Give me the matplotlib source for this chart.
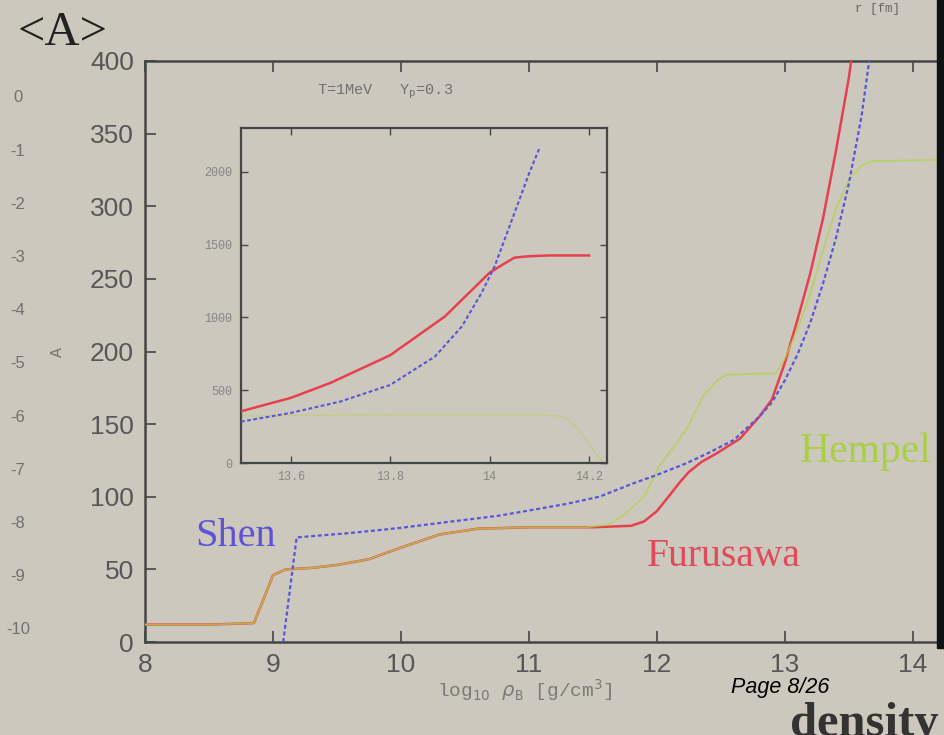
import matplotlib
matplotlib.use("Agg")
import matplotlib.pyplot as plt
from matplotlib.patches import Rectangle

# mean mass number <A> vs baryon density, T=1 MeV, Yp=0.3
furusawa_x = [8.0, 8.5, 8.85, 8.92, 9.0, 9.1, 9.3, 9.5, 9.75, 10.0, 10.3, 10.6, 11.0, 11.5, 11.8,
              11.9, 12.0, 12.1, 12.18, 12.25, 12.35, 12.47, 12.65, 12.8, 12.9, 13.0, 13.1,
              13.2, 13.3, 13.4, 13.5, 13.56]
furusawa_y = [12, 12, 13, 28, 46, 50, 51, 53, 57, 65, 74, 78, 79, 79, 80,
              83, 90, 101, 110, 117, 124, 130, 140, 155, 167, 192, 222,
              254, 292, 338, 388, 425]

hempel_x = [8.0, 8.5, 8.85, 8.92, 9.0, 9.1, 9.3, 9.5, 9.75, 10.0, 10.3, 10.6, 11.0, 11.45,
            11.63, 11.75, 11.9, 12.02, 12.23, 12.36, 12.47, 12.54, 12.93, 13.0, 13.1, 13.2,
            13.3, 13.4, 13.5, 13.6, 13.68, 14.19]
hempel_y = [12, 12, 13, 28, 46, 50, 51, 53, 57, 65, 74, 78, 79, 79,
            81, 88, 100, 121, 146, 169, 180, 184, 185, 195, 215, 240,
            270, 298, 318, 328, 331, 332]

shen_x = [9.08, 9.185, 9.6, 9.99, 10.4, 10.77, 11.29, 11.55, 11.81, 12.0, 12.23, 12.4, 12.6,
          12.8, 12.9, 13.0, 13.1, 13.2, 13.3, 13.4, 13.5, 13.6, 13.7]
shen_y = [0, 72, 75, 78.5, 83, 87, 95, 100, 109, 115, 123, 130, 139,
          155, 165, 180, 198, 220, 247, 278, 315, 362, 425]

# zoom on the high density end
in_furusawa_x = [13.5, 13.6, 13.68, 13.8, 13.91, 14.0, 14.03, 14.05, 14.08, 14.12, 14.2]
in_furusawa_y = [355, 447, 550, 740, 1006, 1307, 1370, 1410, 1420, 1425, 1425]
in_shen_x = [13.5, 13.6, 13.7, 13.8, 13.89, 13.944, 13.984, 14.01, 14.045, 14.08, 14.1]
in_shen_y = [284, 344, 422, 536, 731, 937, 1169, 1350, 1671, 1994, 2160]
in_hempel_x = [13.5, 13.7, 13.9, 14.1, 14.15, 14.18, 14.21, 14.23]
in_hempel_y = [322, 330, 332, 332, 320, 227, 80, 0]

main_yticks = [0, 50, 100, 150, 200, 250, 300, 350, 400]
main_xticks = [8, 9, 10, 11, 12, 13, 14]
inset_xticks = [13.6, 13.8, 14.0, 14.2]
inset_xlabels = ["13.6", "13.8", "14", "14.2"]
inset_yticks = [0, 500, 1000, 1500, 2000]
side_numbers = ["0", "-1", "-2", "-3", "-4", "-5", "-6", "-7", "-8", "-9", "-10"]

bg = "#cdc8be"
red = "#e6404f"
blue = "#5a55d8"
green = "#b4d24c"
axcol = "#454545"
tickcol = "#575757"
mono = "Liberation Mono"
serif = "Liberation Serif"
sans = "Liberation Sans"

W, H = 945, 735
fig = plt.figure(figsize=(W / 100, H / 100), dpi=100, facecolor=bg)


def fx(px):
    return px / W


def fy(py):
    return 1 - py / H


# main panel
ax = fig.add_axes([fx(145), fy(642), fx(937) - fx(145), fy(61) - fy(642)], facecolor=bg)
ax.plot(furusawa_x, furusawa_y, color=red, lw=1.8, zorder=3)
ax.plot(hempel_x, hempel_y, color=green, lw=1.3, alpha=0.75, zorder=4)
ax.plot(shen_x, shen_y, color=blue, lw=1.6, ls=(0, (1.8, 1.2)), zorder=5)
ax.set_xlim(8, 14.19)
ax.set_ylim(0, 400)
ax.set_xticks(main_xticks)
ax.set_yticks(main_yticks)
ax.tick_params(direction="in", length=8, width=1.2, color=axcol, labelcolor=tickcol,
               labelsize=19, top=True)
ax.tick_params(axis="y", pad=8)
ax.tick_params(axis="x", pad=8)
for lab in ax.get_xticklabels() + ax.get_yticklabels():
    lab.set_family(sans)
ax.spines["right"].set_visible(False)
for s in ["left", "top", "bottom"]:
    ax.spines[s].set_color(axcol)
    ax.spines[s].set_linewidth(1.8)

fig.text(fx(385), fy(92), "T=1MeV   Y$_\\mathtt{p}$=0.3", family=mono, color="#707070",
         fontsize=11, ha="center", va="center")

# inset
ins = fig.add_axes([fx(241), fy(463), fx(607) - fx(241), fy(128) - fy(463)], facecolor=bg)
ins.plot(in_furusawa_x, in_furusawa_y, color=red, lw=1.8, zorder=3)
ins.plot(in_hempel_x, in_hempel_y, color=green, lw=1.0, alpha=0.5, zorder=2)
ins.plot(in_shen_x, in_shen_y, color=blue, lw=1.5, ls=(0, (1.8, 1.2)), zorder=4)
ins.set_xlim(13.5, 14.236)
ins.set_ylim(0, 2300)
ins.set_xticks(inset_xticks)
ins.set_xticklabels(inset_xlabels)
ins.set_yticks(inset_yticks)
ins.tick_params(direction="in", length=5, width=1.0, color=axcol, labelcolor="#858585",
                labelsize=8.5, top=True, right=True, pad=6)
for lab in ins.get_xticklabels() + ins.get_yticklabels():
    lab.set_family(mono)
for s in ins.spines.values():
    s.set_color(axcol)
    s.set_linewidth(1.6)

# curve names
fig.text(fx(195), fy(537), "Shen", family=serif, fontsize=29, color="#6052d6", va="center")
fig.text(fx(647), fy(556), "Furusawa", family=serif, fontsize=28.5, color="#e04a5a", va="center")
fig.text(fx(800), fy(452), "Hempel", family=serif, fontsize=30, color="#a8d044", va="center")

# axis titles
fig.text(fx(18), fy(33), "<A>", family=serif, fontsize=35, color="#222222", va="center")
fig.text(fx(58), fy(352), "A", family=mono, fontsize=12, color="#777777",
         va="center", ha="center", rotation=90)
fig.text(fx(525), fy(690), "log$_{10}$ $\\rho_\\mathtt{B}$ [g/cm$^3$]", family=mono,
         fontsize=14, color="#7a7a7a", ha="center", va="center")
fig.text(fx(878), fy(9), "r [fm]", family=mono, fontsize=9, color="#666666",
         ha="center", va="center")

# leftover numbers from the neighbouring panel
for i, s in enumerate(side_numbers):
    fig.text(fx(18), fy(98 + i * 53.2), s, family=sans, fontsize=12, color="#707070",
             ha="center", va="center")

fig.text(fx(780), fy(688), "Page 8/26", family=sans, style="italic", fontsize=15.5,
         color="black", ha="center", va="center")
fig.text(fx(790), fy(724), "density", family=serif, weight="bold", fontsize=35,
         color="#333333", ha="left", va="center")

# dark border at the right edge
fig.patches.append(Rectangle((fx(937), fy(648)), 1 - fx(937), fy(0) - fy(648),
                             transform=fig.transFigure, color="#111111", zorder=10))

fig.savefig("out.png", dpi=100, facecolor=bg)
